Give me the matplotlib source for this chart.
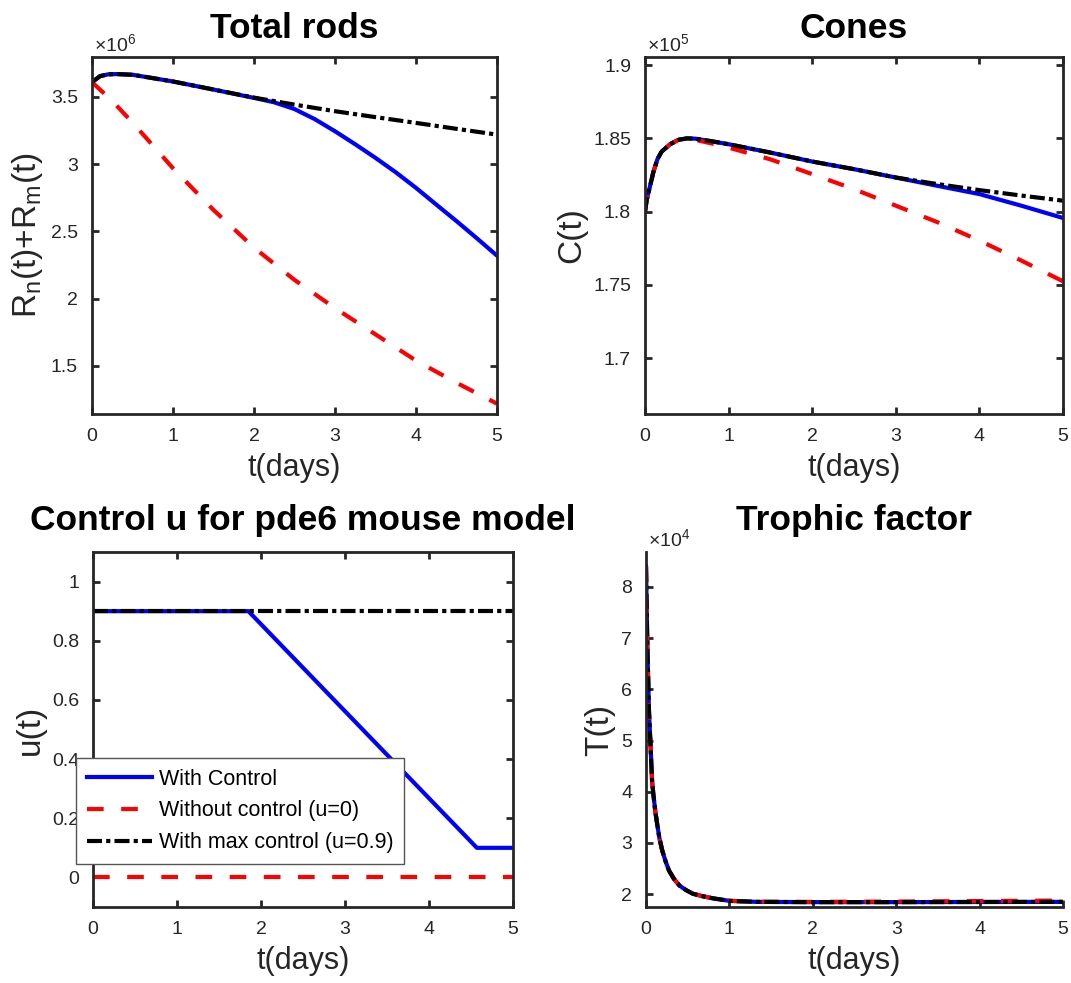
import matplotlib
matplotlib.use("Agg")
import matplotlib.pyplot as plt
import numpy as np

plt.rcParams['font.family'] = ['Liberation Sans', 'DejaVu Sans']
plt.rcParams['mathtext.fontset'] = 'custom'
plt.rcParams['mathtext.rm'] = 'Liberation Sans'
plt.rcParams['mathtext.it'] = 'Liberation Sans:italic'

# ---- data ----
# total rods, x1e6
rods_t_black = [0, 0.1, 0.2, 0.3, 0.5, 1, 1.5, 2, 2.5, 3, 3.5, 4, 4.5, 5]
rods_black = [3.61, 3.655, 3.668, 3.67, 3.665, 3.615, 3.555, 3.495, 3.443, 3.394, 3.35, 3.307, 3.263, 3.22]
rods_t_blue = [0, 0.1, 0.2, 0.3, 0.5, 1, 1.5, 2, 2.25, 2.5, 2.75, 3, 3.25, 3.5, 3.75, 4, 4.25, 4.5, 4.75, 5]
rods_blue = [3.61, 3.655, 3.668, 3.67, 3.665, 3.615, 3.555, 3.493, 3.46, 3.41, 3.335, 3.245, 3.148, 3.047, 2.94, 2.824, 2.70, 2.577, 2.45, 2.32]
rods_t_red = [0, 0.25, 0.5, 0.75, 1, 1.5, 2, 2.5, 3, 3.5, 4, 4.5, 5]
rods_red = [3.61, 3.47, 3.31, 3.14, 2.97, 2.66, 2.38, 2.14, 1.93, 1.735, 1.54, 1.375, 1.22]

# cones, x1e5
cones_t = [0, 0.02, 0.05, 0.1, 0.15, 0.2, 0.3, 0.4, 0.5, 0.6, 0.8, 1, 1.5, 2, 2.5, 3, 3.5, 4, 4.5, 5]
cones_blue = [1.800, 1.808, 1.815, 1.827, 1.836, 1.841, 1.846, 1.849, 1.850, 1.8498, 1.848, 1.846,
              1.8403, 1.8342, 1.829, 1.8233, 1.8176, 1.812, 1.8041, 1.7957]
cones_black = [1.800, 1.808, 1.815, 1.827, 1.836, 1.841, 1.846, 1.849, 1.850, 1.8498, 1.848, 1.846,
               1.8403, 1.8342, 1.829, 1.8233, 1.8188, 1.8147, 1.811, 1.8075]
cones_red = [1.800, 1.808, 1.815, 1.827, 1.836, 1.841, 1.846, 1.849, 1.8495, 1.849, 1.8465, 1.8437,
             1.8357, 1.8256, 1.8154, 1.8041, 1.7928, 1.7803, 1.7667, 1.7525]

# control u
u_t_blue = [0, 1.85, 4.57, 5]
u_blue = [0.9, 0.9, 0.1, 0.1]
u_t_flat = [0, 5]
u_red = [0, 0]
u_black = [0.9, 0.9]

# trophic factor, x1e4
tf_t = [0, 0.016, 0.036, 0.056, 0.073, 0.093, 0.113, 0.134, 0.16, 0.195, 0.235, 0.276, 0.335, 0.4,
        0.48, 0.56, 0.68, 0.8, 1.0, 1.33, 2, 3, 4, 5]
tf_black = [8.4, 6.84, 5.55, 4.85, 4.2, 3.88, 3.6, 3.37, 3.1, 2.85, 2.64, 2.46, 2.3, 2.17,
            2.08, 2.01, 1.96, 1.92, 1.87, 1.85, 1.845, 1.845, 1.848, 1.85]
tf_blue = [8.4, 6.84, 5.55, 4.85, 4.2, 3.88, 3.6, 3.37, 3.1, 2.85, 2.64, 2.46, 2.3, 2.17,
           2.08, 2.01, 1.96, 1.92, 1.87, 1.85, 1.845, 1.845, 1.848, 1.85]
tf_red = [8.4, 6.84, 5.55, 4.85, 4.2, 3.88, 3.6, 3.37, 3.1, 2.85, 2.64, 2.46, 2.3, 2.17,
          2.08, 2.01, 1.96, 1.92, 1.87, 1.852, 1.85, 1.857, 1.866, 1.876]

labels = ['With Control', 'Without control (u=0)', 'With max control (u=0.9)']

# ---- figure ----
W, H = 1071, 983
fig = plt.figure(figsize=(W / 100, H / 100), dpi=100)


def rect(l, r, t, b):
    return [l / W, 1 - b / H, (r - l) / W, (b - t) / H]


gray = '#262626'
lw = 3.0
red_dash = (0, (4, 4.2))
blk_dd = (0, (3.6, 1.0, 1.0, 1.0))


def style(ax, box=True):
    for s in ax.spines.values():
        s.set_linewidth(2.0)
        s.set_color(gray)
    if not box:
        ax.spines['top'].set_visible(False)
        ax.spines['right'].set_visible(False)
    ax.tick_params(direction='in', length=5, width=2.0, color=gray, labelcolor=gray,
                   labelsize=14, top=box, right=box, pad=10)
    ax.set_xlim(0, 5)
    ax.set_xticks([0, 1, 2, 3, 4, 5])
    ax.set_xlabel('t(days)', fontsize=22, color=gray, labelpad=6)


def fmt(v, pos):
    return '%g' % v


def exp_text(ax, n):
    ax.text(0.005, 1.006, r'$\times10^{%d}$' % n, transform=ax.transAxes,
            fontsize=14, color=gray, ha='left', va='bottom')


# Total rods
ax1 = fig.add_axes(rect(92, 497, 57, 414))
ax1.plot(rods_t_blue, rods_blue, color='b', lw=lw)
ax1.plot(rods_t_red, rods_red, color='r', lw=lw, linestyle=red_dash)
ax1.plot(rods_t_black, rods_black, color='k', lw=lw, linestyle=blk_dd)
style(ax1)
ax1.set_ylim(1.143, 3.797)
ax1.set_yticks([1.5, 2, 2.5, 3, 3.5])
ax1.yaxis.set_major_formatter(plt.FuncFormatter(fmt))
ax1.set_ylabel(r'R$_\mathrm{n}$(t)+R$_\mathrm{m}$(t)', fontsize=24, color=gray, labelpad=4)
ax1.set_title('Total rods', fontsize=25.5, fontweight='bold', pad=14)
exp_text(ax1, 6)

# Cones
ax2 = fig.add_axes(rect(645, 1063, 57, 414))
ax2.plot(cones_t, cones_blue, color='b', lw=lw)
ax2.plot(cones_t, cones_red, color='r', lw=lw, linestyle=red_dash)
ax2.plot(cones_t, cones_black, color='k', lw=lw, linestyle=blk_dd)
style(ax2)
ax2.set_ylim(1.662, 1.9055)
ax2.set_yticks([1.7, 1.75, 1.8, 1.85, 1.9])
ax2.yaxis.set_major_formatter(plt.FuncFormatter(fmt))
ax2.set_ylabel('C(t)', fontsize=24, color=gray, labelpad=4)
ax2.set_title('Cones', fontsize=25.5, fontweight='bold', pad=14)
exp_text(ax2, 5)

# Control
ax3 = fig.add_axes(rect(93, 513, 552, 907))
l1, = ax3.plot(u_t_blue, u_blue, color='b', lw=lw)
l2, = ax3.plot(u_t_flat, u_red, color='r', lw=lw, linestyle=red_dash)
l3, = ax3.plot(u_t_flat, u_black, color='k', lw=lw, linestyle=blk_dd)
style(ax3)
ax3.set_ylim(-0.1, 1.1)
ax3.set_yticks([0, 0.2, 0.4, 0.6, 0.8, 1])
ax3.yaxis.set_major_formatter(plt.FuncFormatter(fmt))
ax3.set_ylabel('u(t)', fontsize=24, color=gray, labelpad=4)
ax3.set_title('Control u for pde6 mouse model', fontsize=25.5, fontweight='bold', pad=16)
leg = ax3.legend([l1, l2, l3], labels, loc='upper left', bbox_to_anchor=(-0.04, 0.42),
                 borderaxespad=0, fontsize=15.5, handlelength=3.0, fancybox=False,
                 framealpha=1, edgecolor='#555555', labelspacing=0.5, borderpad=0.5,
                 handletextpad=0.35)
leg.get_frame().set_linewidth(1.0)

# Trophic factor
ax4 = fig.add_axes(rect(646, 1063, 552, 907))
ax4.plot(tf_t, tf_blue, color='b', lw=lw)
ax4.plot(tf_t, tf_red, color='r', lw=lw, linestyle=red_dash)
ax4.plot(tf_t, tf_black, color='k', lw=lw, linestyle=blk_dd)
style(ax4, box=False)
ax4.set_ylim(1.75, 8.68)
ax4.set_yticks([2, 3, 4, 5, 6, 7, 8])
ax4.yaxis.set_major_formatter(plt.FuncFormatter(fmt))
ax4.set_ylabel('T(t)', fontsize=24, color=gray, labelpad=4)
ax4.set_title('Trophic factor', fontsize=25.5, fontweight='bold', pad=16)
exp_text(ax4, 4)

fig.savefig('out.png', dpi=100, facecolor='white')
